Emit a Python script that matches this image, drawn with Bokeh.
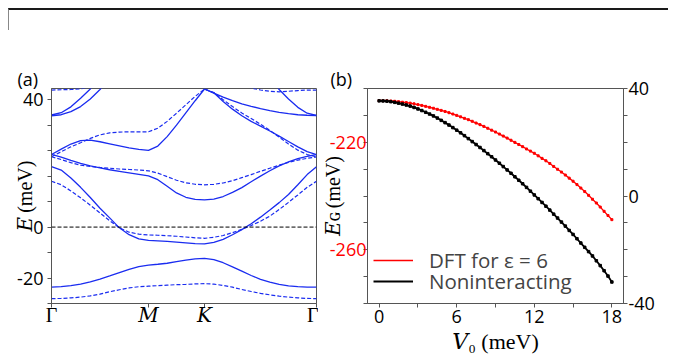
import numpy as np
from bokeh.plotting import figure
from bokeh.models import (Range1d, LinearAxis, FixedTicker, Span, Legend,
                          LegendItem, Div, Title)
from bokeh.layouts import row, column
from bokeh.embed import file_html
from bokeh.resources import INLINE

# ---------------- panel (a): band structure ----------------
# path coordinate: Gamma=0, M=1, K=1+1/sqrt3, Gamma=1+sqrt3
k_path = [0.0, 0.1, 0.2, 0.3, 0.4, 0.5, 0.6, 0.7, 0.8, 0.9, 1.0,
          1.0962, 1.1925, 1.2887, 1.3849, 1.4811, 1.5774,
          1.6736, 1.7698, 1.8660, 1.9623, 2.0585, 2.1547, 2.2509, 2.3472,
          2.4434, 2.5396, 2.6358, 2.7321]
k_ticks = [0.0, 1.0, 1.5774, 2.7321]
k_tick_labels = ["Γ", "𝑀", "𝐾", "Γ"]
e_ticks = [-20, 0, 50]
e_tick_labels = ["-20", "0", "40"]

band_s1 = [-23.6, -23.4, -23.0, -22.4, -21.5, -20.4, -19.2, -17.9, -16.6, -15.5, -14.9,
           -14.6, -14.2, -13.6, -13.0, -12.5, -12.3,
           -12.8, -14.0, -15.6, -17.3, -19.0, -20.5, -21.6, -22.5, -23.1, -23.4, -23.6, -23.6]
band_d1 = [-28.1, -28.0, -27.8, -27.5, -27.0, -26.3, -25.4, -24.6, -23.9, -23.4, -23.2,
           -23.0, -22.8, -22.6, -22.5, -22.3, -22.2,
           -22.4, -22.9, -23.6, -24.5, -25.3, -26.0, -26.6, -27.1, -27.5, -27.8, -28.0, -28.1]
band_s2 = [23.7, 22.4, 19.3, 15.6, 11.6, 7.4, 3.6, -0.3, -3.0, -4.6, -5.2,
           -5.4, -5.6, -5.9, -6.2, -6.5, -6.6,
           -6.0, -4.8, -3.0, -1.0, 1.3, 3.9, 6.7, 9.6, 12.8, 16.6, 20.6, 23.7]
band_d2 = [18.0, 16.6, 14.2, 11.5, 8.6, 5.5, 2.5, -0.3, -2.0, -2.8, -3.1,
           -3.2, -3.4, -3.6, -3.9, -4.2, -4.4,
           -4.0, -3.3, -2.2, -0.9, 0.6, 2.3, 4.3, 6.9, 9.7, 12.6, 15.6, 18.0]
band_s3 = [28.5, 27.5, 26.2, 25.0, 24.0, 23.2, 22.5, 21.9, 21.3, 20.7, 20.1,
           18.6, 16.0, 13.4, 11.7, 10.9, 10.7,
           11.0, 12.0, 13.6, 15.5, 17.8, 20.0, 22.1, 24.0, 25.6, 26.9, 27.8, 28.4]
band_d3 = [27.6, 26.5, 25.3, 24.3, 23.8, 23.4, 23.1, 22.8, 22.6, 22.4, 22.1,
           21.2, 19.8, 18.4, 17.4, 16.8, 16.6,
           16.8, 17.3, 18.2, 19.4, 20.6, 21.9, 23.1, 24.3, 25.4, 26.3, 27.0, 27.5]
band_s4 = [28.5, 30.6, 32.6, 33.9, 34.1, 33.5, 32.7, 31.9, 31.1, 30.5, 30.1,
           31.8, 35.5, 40.0, 44.8, 49.6, 54.2,
           52.7, 49.3, 46.3, 43.7, 41.5, 39.6, 37.7, 35.7, 33.6, 31.5, 29.6, 28.4]
band_d4 = [27.6, 29.6, 31.5, 33.1, 34.8, 36.2, 37.0, 37.3, 37.4, 37.4, 37.4,
           38.8, 41.5, 44.7, 48.0, 51.3, 54.2,
           52.8, 50.0, 47.3, 44.8, 42.6, 40.4, 38.0, 35.3, 32.6, 30.2, 28.5, 27.5]
# upper bands, only partly inside the window
band_s5 = [54.2, 52.6, 51.0, 49.6, 48.4, 47.4, 46.5, 45.7, 45.0, 44.5, 44.1, 43.9, 43.8]  # k_path[16:]
band_s6 = [58.5, 54.0, 50.3, 47.0, 44.7, 43.8]          # k_path[23:]
band_sa = [44.0, 44.9, 47.2, 50.6, 54.2, 58.5]          # k_path[:6]
band_sb = [43.7, 44.1, 45.3, 47.3, 50.3, 54.0, 58.3]    # k_path[:7]
band_d5a = [53.8, 53.9, 54.0, 54.3, 55.0, 56.0]         # k_path[:6]
band_d5b = [56.0, 54.6, 53.8, 53.3, 53.1, 53.3, 53.6, 53.8, 53.8]  # k_path[20:]

# ---------------- panel (b): gap vs V0 ----------------
v0 = [0.0, 0.3, 0.6, 0.9, 1.2, 1.5, 1.8, 2.1, 2.4, 2.7, 3.0, 3.3, 3.6, 3.9, 4.2, 4.5,
      4.8, 5.1, 5.4, 5.7, 6.0, 6.3, 6.6, 6.9, 7.2, 7.5, 7.8, 8.1, 8.4, 8.7, 9.0, 9.3,
      9.6, 9.9, 10.2, 10.5, 10.8, 11.1, 11.4, 11.7, 12.0, 12.3, 12.6, 12.9, 13.2, 13.5,
      13.8, 14.1, 14.4, 14.7, 15.0, 15.3, 15.6, 15.9, 16.2, 16.5, 16.8, 17.1, 17.4,
      17.7, 18.0]
# DFT for eps = 6 (left, red axis, meV)
eg_dft = [-204.5, -204.52, -204.57, -204.65, -204.75, -204.9, -205.1, -205.25, -205.45,
          -205.7, -206.0, -206.3, -206.65, -207.0, -207.35, -207.75, -208.15, -208.55,
          -209.0, -209.5, -210.0, -210.55, -211.1, -211.6, -212.2, -212.85, -213.45,
          -214.1, -214.8, -215.5, -216.2, -216.95, -217.7, -218.45, -219.25, -220.05,
          -220.85, -221.65, -222.5, -223.3, -224.1, -225.05, -226.0, -226.9, -227.9,
          -229.0, -230.05, -231.1, -232.2, -233.35, -234.5, -235.75, -237.05, -238.35,
          -239.75, -241.2, -242.6, -244.1, -245.7, -247.25, -248.8]
# noninteracting (right axis, meV)
eg_nonint = [35.4, 35.38, 35.3, 35.1, 34.85, 34.55, 34.2, 33.85, 33.45, 32.95, 32.4, 31.8,
             31.15, 30.5, 29.8, 29.0, 28.15, 27.3, 26.4, 25.45, 24.5, 23.5, 22.45, 21.35,
             20.25, 19.15, 18.05, 16.9, 15.75, 14.6, 13.4, 12.2, 10.95, 9.7, 8.45, 7.15,
             5.85, 4.55, 3.2, 1.8, 0.4, -1.0, -2.4, -3.8, -5.25, -6.75, -8.2, -9.7, -11.2,
             -12.8, -14.3, -15.9, -17.5, -19.1, -20.7, -22.3, -24.1, -25.9, -27.8, -29.8,
             -32.0]
v0_ticks = [0, 6, 12, 18]
left_ticks = [-260, -220]
left_tick_labels = ["-260", "-220"]
right_ticks = [-40, 0, 40]
right_tick_labels = ["-40", "0", "40"]

FONT = "Open Sans"
SERIF = "Liberation Serif, DejaVu Serif"
AX = "#555555"
BLUE = "#1a2cf0"
TICK_FS = "18px"


def style_axis(ax, standoff=4):
    ax.axis_line_color = AX
    ax.major_tick_line_color = AX
    ax.minor_tick_line_color = AX
    ax.major_tick_in = 0
    ax.major_tick_out = 4
    ax.minor_tick_in = 0
    ax.minor_tick_out = 4
    ax.major_label_text_font = FONT
    ax.major_label_text_font_size = TICK_FS
    ax.major_label_text_color = "black"
    ax.major_label_standoff = standoff
    ax.axis_label_text_font = SERIF
    ax.axis_label_text_font_style = "normal"
    ax.axis_label_text_color = "black"


# ---------------- figure (a) ----------------
p1 = figure(width=310, height=326, x_range=Range1d(0, 2.7321), y_range=Range1d(-30, 54.4),
            output_backend="svg", toolbar_location=None,
            min_border_left=43, min_border_right=2, min_border_top=54, min_border_bottom=49)
p1.grid.visible = False
p1.outline_line_color = AX
p1.background_fill_color = "white"
p1.border_fill_color = "white"

ya = p1.yaxis[0]
style_axis(ya)
ya.ticker = FixedTicker(ticks=e_ticks, minor_ticks=[-30, -10, 10, 20, 30, 40])
ya.major_label_overrides = dict(zip(e_ticks, e_tick_labels))
ya.axis_label = "𝐸\u2009(meV)"
ya.axis_label_text_font_size = "20px"
ya.axis_label_standoff = -22

xa = p1.xaxis[0]
style_axis(xa, standoff=-4)
xa.ticker = FixedTicker(ticks=k_ticks, minor_ticks=[])
xa.major_label_overrides = dict(zip(k_ticks, k_tick_labels))
xa.major_label_text_font = SERIF
xa.major_label_text_font_size = "20px"

solid = dict(line_color=BLUE, line_width=1.3)
dashed = dict(line_color=BLUE, line_width=1.2, line_dash="4 2")
for b in [band_s1, band_s2, band_s3, band_s4]:
    p1.line(k_path, b, **solid)
for b in [band_d1, band_d2, band_d3, band_d4]:
    p1.line(k_path, b, **dashed)
p1.line(k_path[16:], band_s5, **solid)
p1.line(k_path[23:], band_s6, **solid)
p1.line(k_path[:6], band_sa, **solid)
p1.line(k_path[:7], band_sb, **solid)
p1.line(k_path[:6], band_d5a, **dashed)
p1.line(k_path[20:], band_d5b, **dashed)

p1.add_layout(Span(location=0, dimension="width", line_color="black",
                   line_width=1, line_dash="4 2"))
p1.add_layout(Title(text="(a)", align="left", offset=-34, standoff=-4,
                    text_font=FONT, text_font_size="18px", text_font_style="normal",
                    text_color="black"), "above")

# ---------------- figure (b) ----------------
p2 = figure(width=350, height=326, x_range=Range1d(-0.9, 18.9), y_range=Range1d(-280, -200),
            output_backend="svg", toolbar_location=None,
            min_border_left=49, min_border_right=45, min_border_top=58, min_border_bottom=50)
p2.grid.visible = False
p2.outline_line_color = AX
p2.background_fill_color = "white"
p2.border_fill_color = "white"
p2.extra_y_ranges = {"right": Range1d(-40, 40)}
right_axis = LinearAxis(y_range_name="right")
p2.add_layout(right_axis, "right")

la = p2.yaxis[0]
style_axis(la, standoff=-3)
la.ticker = FixedTicker(ticks=left_ticks,
                        minor_ticks=[-280, -270, -250, -240, -230, -210, -200])
la.major_label_overrides = dict(zip(left_ticks, left_tick_labels))
la.major_label_text_color = "red"
la.axis_label = "𝐸ɢ\u2009(meV)"
la.axis_label_text_font_size = "20px"
la.axis_label_standoff = -17

style_axis(right_axis, standoff=1)
right_axis.ticker = FixedTicker(ticks=right_ticks, minor_ticks=[-30, -20, -10, 10, 20, 30])
right_axis.major_label_overrides = dict(zip(right_ticks, right_tick_labels))

ba = p2.xaxis[0]
style_axis(ba, standoff=2)
ba.ticker = FixedTicker(ticks=v0_ticks, minor_ticks=[3, 9, 15])
ba.axis_label = "𝑉₀ (meV)"
ba.axis_label_text_font_size = "22px"
ba.axis_label_standoff = 3

r_dft = p2.line(v0, eg_dft, line_color="red", line_width=1.3)
p2.scatter(v0, eg_dft, marker="square", size=2, color="red")
r_non = p2.line(v0, eg_nonint, y_range_name="right", line_color="black", line_width=1.8)
p2.scatter(v0, eg_nonint, y_range_name="right", marker="square", size=2.5, color="black")

legend_style = dict(glyph_width=40, glyph_height=20, label_height=20,
                    label_standoff=16, spacing=0, padding=0, margin=0,
                    label_text_font=FONT, label_text_font_size="20.5px",
                    label_text_line_height=0.8,
                    border_line_color=None, background_fill_alpha=0)
legend_dft = Legend(items=[LegendItem(label="DFT for ε = 6", renderers=[r_dft])],
                    location=(6, 29), **legend_style)
legend_non = Legend(items=[LegendItem(label="Noninteracting", renderers=[r_non])],
                    location=(6, 8), **legend_style)
p2.add_layout(legend_dft)
p2.add_layout(legend_non)
p2.add_layout(Title(text="(b)", align="left", offset=-37, standoff=-4,
                    text_font=FONT, text_font_size="18px", text_font_style="normal",
                    text_color="black"), "above")

top_rule = Div(text="", width=660, height=22, margin=0,
               styles={"border-top": "2px solid #1a1a1a", "border-left": "1px solid #888888",
                       "box-sizing": "border-box"})

layout = column(top_rule, row(p1, p2), margin=(8, 0, 0, 8))

open("out.html", "w").write(file_html(layout, INLINE, title="bands"))
